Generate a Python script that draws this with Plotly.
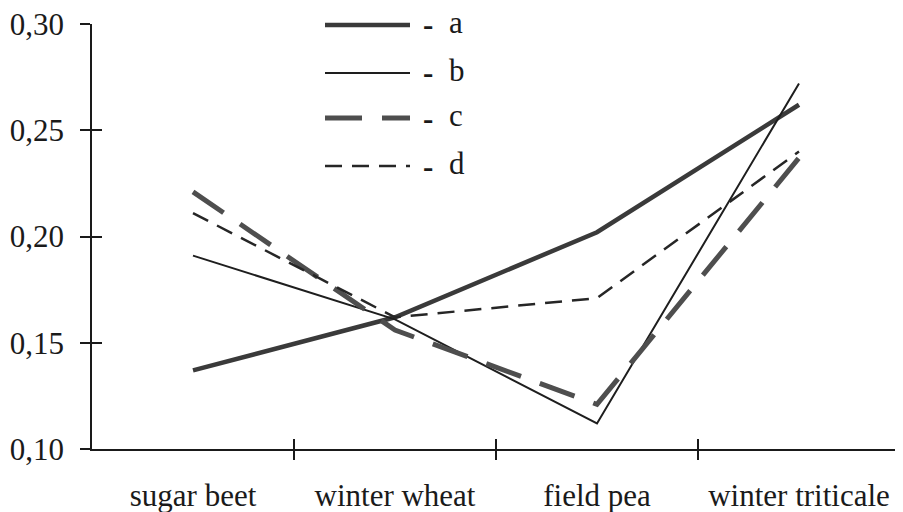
import plotly.graph_objects as go

categories = ["sugar beet", "winter wheat", "field pea", "winter triticale"]
series_names = ["a", "b", "c", "d"]
a_vals = [0.137, 0.162, 0.202, 0.262]
b_vals = [0.191, 0.161, 0.112, 0.272]
c_vals = [0.221, 0.156, 0.121, 0.237]
d_vals = [0.211, 0.162, 0.171, 0.240]
y_ticks = [0.10, 0.15, 0.20, 0.25, 0.30]
y_ticktext = ["0,10", "0,15", "0,20", "0,25", "0,30"]

styles = {
    "a": dict(color="#3a3a3a", width=4.5, dash="solid"),
    "b": dict(color="#1e1e1e", width=2, dash="solid"),
    "c": dict(color="#4e4e4e", width=5, dash="37px,20px"),
    "d": dict(color="#262626", width=2.5, dash="17px,10px"),
}
values = {"a": a_vals, "b": b_vals, "c": c_vals, "d": d_vals}

FONT = "'Liberation Serif', 'Times New Roman', 'DejaVu Serif', serif"
# page body has an 8px default margin; compensate so the plot sits where the reference has it
OFF = 8
W, H = 903 - OFF, 512 - OFF
L, R, T, B = 92 - OFF, 3, 24 - OFF, 63

fig = go.Figure()
xs = list(range(len(categories)))
for name in series_names:
    fig.add_trace(go.Scatter(x=xs, y=values[name], mode="lines", name=name,
                             line=styles[name], showlegend=False, hoverinfo="skip"))

fig.add_trace(go.Scatter(x=[0], y=[0.2], mode="none", xaxis="x2", yaxis="y2", showlegend=False, hoverinfo="skip"))
fig.add_trace(go.Scatter(x=[0], y=[0.2], mode="none", xaxis="x3", yaxis="y2", showlegend=False, hoverinfo="skip"))

xr = [-0.5, len(categories) - 0.5]
yr = [0.10, 0.30]
bounds = [i + 0.5 for i in range(len(categories) - 1)]

fig.update_layout(
    width=W, height=H,
    margin=dict(l=L, r=R, t=T, b=B, autoexpand=False),
    paper_bgcolor="white", plot_bgcolor="white",
    font=dict(family=FONT, color="#1a1a1a", size=31),
    xaxis=dict(range=xr, tickvals=xs, ticktext=categories, ticks="", showgrid=False,
               zeroline=False, showline=True, linecolor="#1a1a1a", linewidth=1.5,
               tickfont=dict(size=31, family=FONT), ticklabelstandoff=18, automargin=False,
               ticklabeloverflow="allow"),
    xaxis2=dict(range=xr, overlaying="x", anchor="y", side="bottom", tickvals=bounds,
                ticks="outside", ticklen=10, tickwidth=1.5, tickcolor="#1a1a1a",
                showticklabels=False, showgrid=False, zeroline=False, showline=False, automargin=False),
    xaxis3=dict(range=xr, overlaying="x", anchor="y", side="bottom", tickvals=bounds,
                ticks="inside", ticklen=10, tickwidth=1.5, tickcolor="#1a1a1a",
                showticklabels=False, showgrid=False, zeroline=False, showline=False, automargin=False),
    yaxis=dict(range=yr, tickvals=y_ticks, ticktext=y_ticktext, ticks="outside", ticklen=10,
               tickwidth=1.5, tickcolor="#1a1a1a", showgrid=False, zeroline=False,
               showline=True, linecolor="#1a1a1a", linewidth=1.5,
               tickfont=dict(size=31, family=FONT), ticklabelstandoff=10, automargin=False,
               ticklabeloverflow="allow"),
    yaxis2=dict(range=yr, overlaying="y", anchor="x", side="left", tickvals=y_ticks,
                ticks="inside", ticklen=10, tickwidth=1.5, tickcolor="#1a1a1a",
                showticklabels=False, showgrid=False, zeroline=False, showline=False, automargin=False),
)

pw, ph = W - L - R, H - T - B
def px_x(p):
    return (p - OFF - L) / pw
def px_y(p):
    return (H - B - (p - OFF)) / ph

leg_x0, leg_x1, leg_dash_x, leg_txt_x = 325, 410, 428, 447
leg_rows = [25, 73, 118, 166]
for name, row in zip(series_names, leg_rows):
    st = styles[name]
    fig.add_shape(type="line", xref="paper", yref="paper",
                  x0=px_x(leg_x0), x1=px_x(leg_x1), y0=px_y(row), y1=px_y(row),
                  line=dict(color=st["color"], width=st["width"], dash=st["dash"]))
    fig.add_annotation(xref="paper", yref="paper", x=px_x(leg_dash_x), y=px_y(row),
                       text="<b>-</b>", showarrow=False, xanchor="center", yanchor="middle",
                       font=dict(size=31, family=FONT))
    fig.add_annotation(xref="paper", yref="paper", x=px_x(leg_txt_x), y=px_y(row - 3),
                       text=name, showarrow=False, xanchor="left", yanchor="middle",
                       font=dict(size=31, family=FONT))

fig.write_html("out.html")
